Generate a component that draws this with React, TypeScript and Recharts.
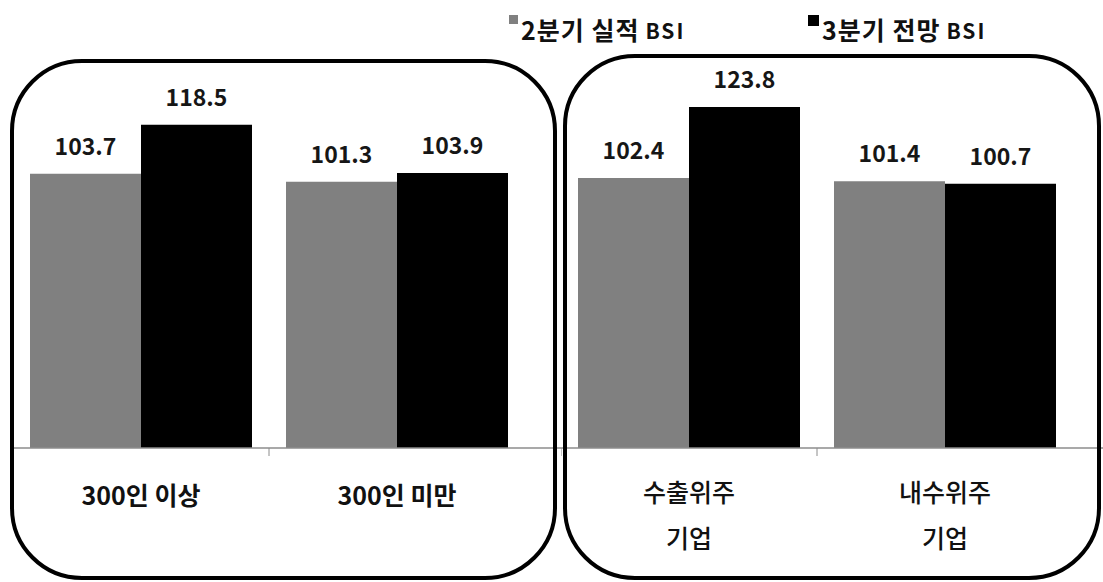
import { BarChart, Bar, XAxis, YAxis, LabelList } from "recharts";

const leftCategories = ["300인 이상", "300인 미만"];
const rightCategories = ["수출위주\n기업", "내수위주\n기업"];
const q2Left = [103.7, 101.3];
const q3Left = [118.5, 103.9];
const q2Right = [102.4, 101.4];
const q3Right = [123.8, 100.7];
const seriesNames = ["2분기 실적", "3분기 전망"];

const FONT = "'Noto Sans CJK KR', 'Noto Sans', sans-serif";
const GREY = "#808080";
const BLACK = "#000000";
const AXIS = "#8c8c8c";

const leftData = leftCategories.map((name, i) => ({ name, q2: q2Left[i], q3: q3Left[i] }));
const rightData = rightCategories.map((name, i) => ({ name, q2: q2Right[i], q3: q3Right[i] }));

const BAND = 256;

function CategoryTick(props: any) {
  const { x, y, payload, weight, firstDy } = props;
  const lines = String(payload.value).split("\n");
  return (
    <g>
      <line x1={x - BAND / 2} x2={x - BAND / 2} y1={y} y2={y + 8} stroke={AXIS} strokeWidth={1} />
      {lines.map((line, i) => (
        <text
          key={i}
          x={x}
          y={y + firstDy + i * 46}
          textAnchor="middle"
          dominantBaseline="central"
          fontFamily={FONT}
          fontSize={25}
          fontWeight={weight}
          fill="#111"
        >
          {line}
        </text>
      ))}
    </g>
  );
}

function Panel({ data, width, marginLeft, padRight, weight, firstDy }: any) {
  return (
    <BarChart
      width={width}
      height={582}
      data={data}
      margin={{ top: 50, right: 0, left: marginLeft, bottom: 34 }}
      barGap={0}
      barSize={111}
    >
      <YAxis hide domain={[21, 141]} />
      <XAxis
        dataKey="name"
        height={100}
        interval={0}
        padding={{ left: 0, right: padRight }}
        axisLine={{ stroke: AXIS, strokeWidth: 1.5 }}
        tickLine={false}
        tickSize={0}
        tickMargin={0}
        tick={<CategoryTick weight={weight} firstDy={firstDy} />}
      />
      <Bar dataKey="q2" name={seriesNames[0]} fill={GREY} isAnimationActive={false}>
        <LabelList dataKey="q2" position="top" offset={19} fill="#161616" fontSize={23} fontWeight={700} fontFamily={FONT} />
      </Bar>
      <Bar dataKey="q3" name={seriesNames[1]} fill={BLACK} isAnimationActive={false}>
        <LabelList dataKey="q3" position="top" offset={19} fill="#161616" fontSize={23} fontWeight={700} fontFamily={FONT} />
      </Bar>
    </BarChart>
  );
}

function LegendItem({ color, label, left, box }: any) {
  return (
    <div style={{ position: "absolute", left, top: 10, display: "flex", alignItems: "flex-start", fontFamily: FONT, fontWeight: 700, color: "#111" }}>
      <div style={{ width: box, height: box, background: color, marginTop: 5, marginRight: 3 }} />
      <span style={{ fontSize: 25, letterSpacing: 1, lineHeight: "38px" }}>{label}</span>
      <span style={{ fontSize: 21, letterSpacing: 2, lineHeight: "38px", marginLeft: 6, marginTop: 1 }}>BSI</span>
    </div>
  );
}

export default function App() {
  return (
    <div style={{ position: "absolute", top: 0, left: 0, width: 1103, height: 582, background: "#fff" }}>
      <div style={{ position: "absolute", left: 0, top: 0 }}>
        <Panel data={leftData} width={561} marginLeft={13} padRight={36} weight={700} firstDy={46} />
      </div>
      <div style={{ position: "absolute", left: 561, top: 0 }}>
        <Panel data={rightData} width={542} marginLeft={0} padRight={30} weight={500} firstDy={43} />
      </div>
      <svg width={1103} height={582} style={{ position: "absolute", left: 0, top: 0, pointerEvents: "none" }}>
        <rect x={12} y={61} width={543} height={517} rx={70} ry={70} fill="none" stroke="#000" strokeWidth={4} />
        <rect x={565} y={56} width={534} height={522} rx={70} ry={70} fill="none" stroke="#000" strokeWidth={4} />
      </svg>
      <LegendItem color={GREY} label={seriesNames[0]} left={509} box={9} />
      <LegendItem color={BLACK} label={seriesNames[1]} left={808} box={11} />
    </div>
  );
}
